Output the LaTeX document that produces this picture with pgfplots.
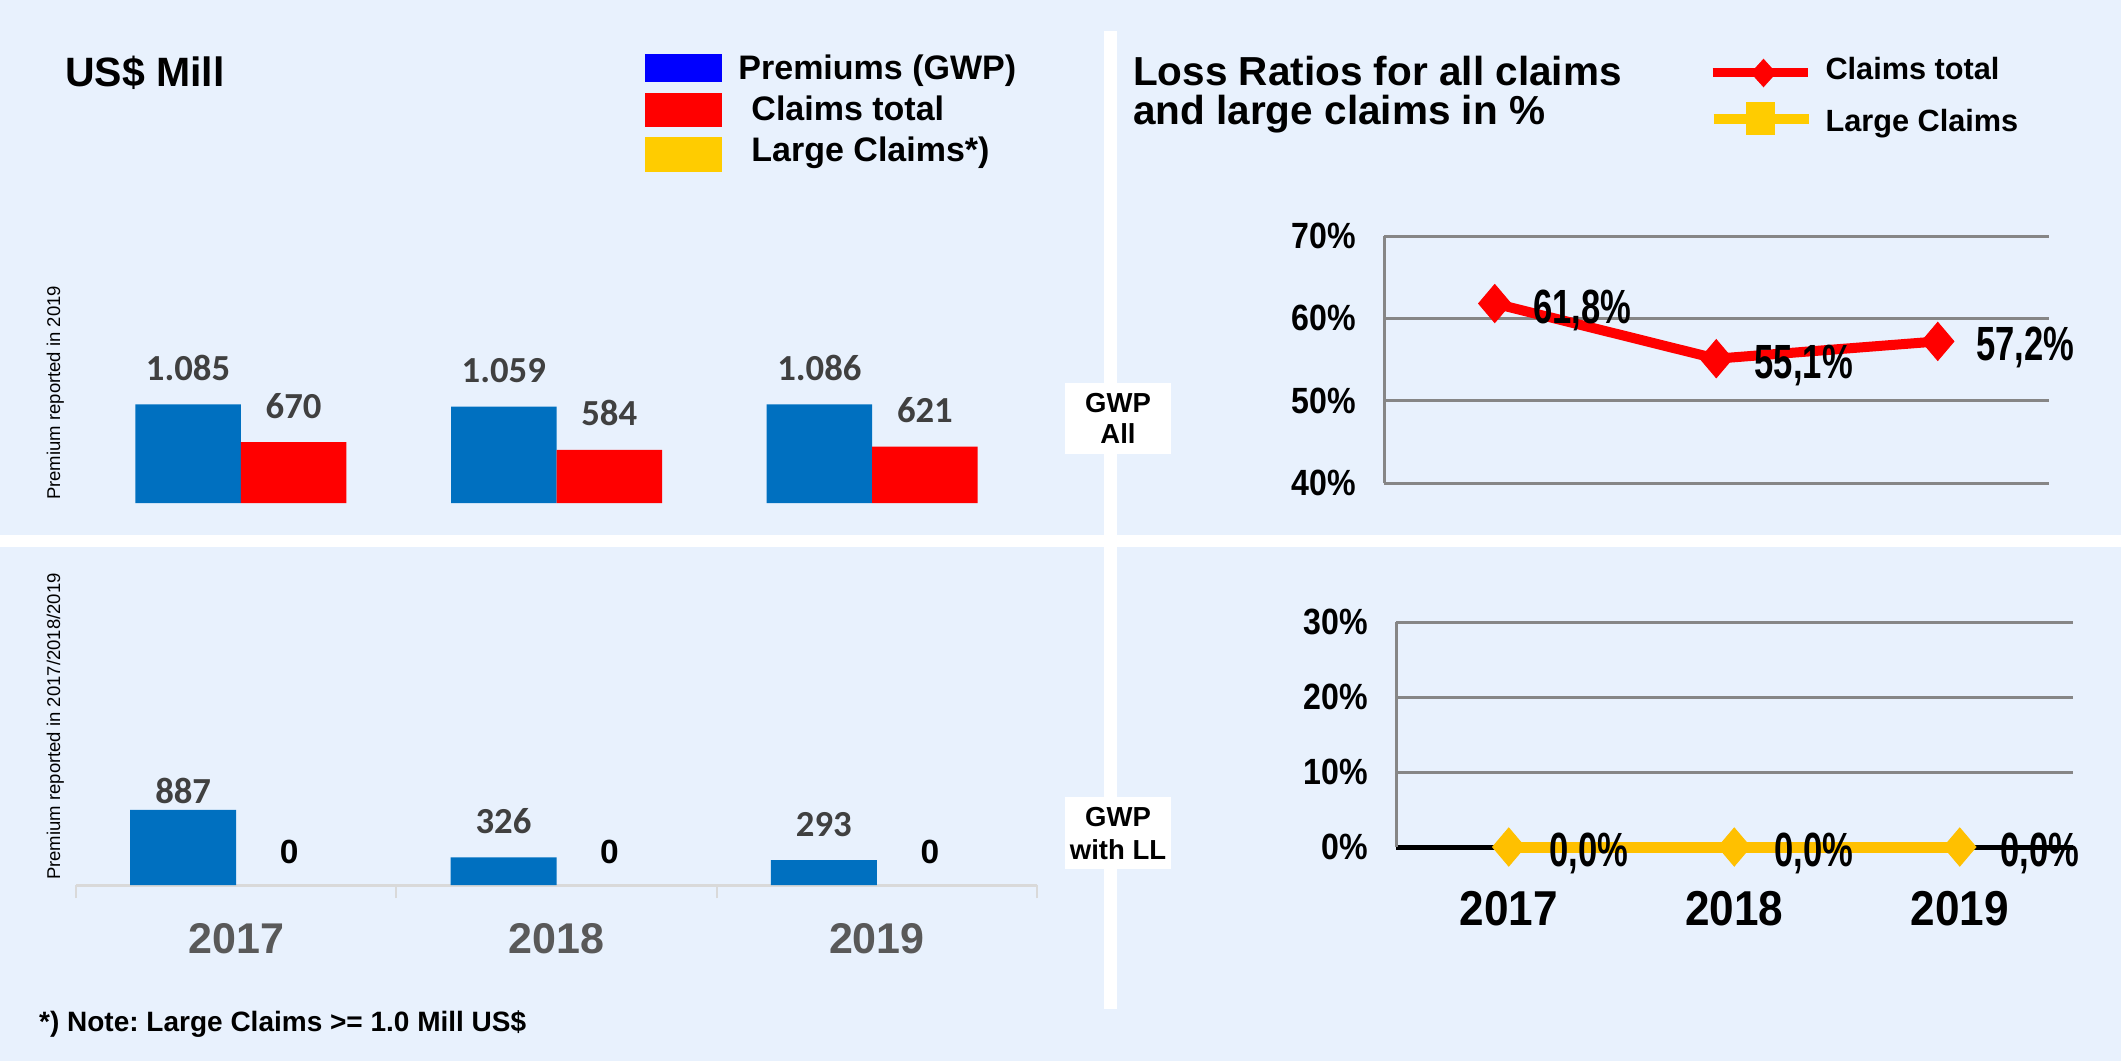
\documentclass[border=0pt]{standalone}
\usepackage{fontspec}
\setmainfont{Liberation Sans}
\newfontfamily\carlito{Carlito}
\newfontfamily\narrowA[FakeStretch=0.88]{Liberation Sans}
\newfontfamily\narrowB[FakeStretch=0.72]{Liberation Sans}
\newfontfamily\narrowC[FakeStretch=0.9]{Liberation Sans}
\usepackage{pgfplots}
\usepackage{pgfplotstable}
\pgfplotsset{compat=1.18}
\frenchspacing

\definecolor{bg}{RGB}{232,241,253}
\definecolor{barblue}{RGB}{0,112,192}
\definecolor{legblue}{RGB}{0,0,255}
\definecolor{legyellow}{RGB}{255,204,0}
\definecolor{lcyellow}{RGB}{255,192,0}
\definecolor{valgray}{RGB}{64,64,64}
\definecolor{yeargray}{RGB}{89,89,89}
\definecolor{gridgray}{RGB}{134,134,134}
\definecolor{axisgray}{RGB}{217,217,217}

\pgfplotstableread{
x y lab
0 1085 1.085
1 1059 1.059
2 1086 1.086
}\premall
\pgfplotstableread{
x y lab
0 670 670
1 584 584
2 621 621
}\claimsall
\pgfplotstableread{
x y lab off
0 887 887 6
1 326 326 23
2 293 293 23
}\premll
\pgfplotstableread{
x y lab
0 0 0
1 0 0
2 0 0
}\claimsll
\pgfplotstableread{
x y lab
0 61.8 61,8
1 55.1 55,1
2 57.2 57,2
}\lrall
\pgfplotstableread{
x y lab
0 0 0,0
1 0 0,0
2 0 0,0
}\lrlarge

\begin{document}
\begin{tikzpicture}
% background and separators
\begin{scope}[x=1pt,y=-1pt]
\fill[bg] (0,0) rectangle (2121,1061);
\fill[white] (0,535) rectangle (2121,547);
\fill[white] (1104,31) rectangle (1117,1009);
\fill[white] (1065,383) rectangle (1171,454);
\fill[white] (1065,797) rectangle (1171,869);
\end{scope}

% ---------- Top-left: GWP All bars ----------
\begin{axis}[at={(83pt,-503pt)}, anchor=south west, scale only axis,
  width=947pt, height=200pt, xmin=-0.5, xmax=2.5, ymin=0, ymax=2200,
  hide axis, clip=false,
  legend style={at={(axis description cs:0.5935,2.26)}, anchor=north west,
    draw=none, fill=none, inner sep=0pt, outer sep=0pt, row sep=1pt, column sep=17pt,
    font=\bfseries\fontsize{34}{40}\selectfont, cells={anchor=base west}, nodes={inner sep=0pt}},
]
\addplot[ybar, bar width=105.5pt, bar shift=-52.75pt, fill=barblue, draw=none, forget plot,
  nodes near coords, point meta=explicit symbolic,
  every node near coord/.append style={anchor=south, inner sep=0pt, xshift=-52.75pt, yshift=23.5pt,
    font=\carlito\bfseries\fontsize{36.7}{40}\selectfont, text=valgray}]
  table[x=x,y=y,meta=lab]{\premall};
\addplot[ybar, bar width=105.5pt, bar shift=52.75pt, fill=red, draw=none, forget plot,
  nodes near coords, point meta=explicit symbolic,
  every node near coord/.append style={anchor=south, inner sep=0pt, xshift=52.75pt, yshift=23.5pt,
    font=\carlito\bfseries\fontsize{36.7}{40}\selectfont, text=valgray}]
  table[x=x,y=y,meta=lab]{\claimsall};
\addlegendimage{legend image code/.code={\path[draw=none,fill=none] (0pt,-12pt) rectangle (1pt,28pt); \fill[legblue] (0pt,-2pt) rectangle (76pt,25pt);}}
\addlegendentry{Premiums (GWP)}
\addlegendimage{legend image code/.code={\path[draw=none,fill=none] (0pt,-12pt) rectangle (1pt,28pt); \fill[red] (0pt,-6pt) rectangle (76pt,27pt);}}
\addlegendentry{\hspace{13pt}Claims total}
\addlegendimage{legend image code/.code={\path[draw=none,fill=none] (0pt,-12pt) rectangle (1pt,28pt); \fill[legyellow] (0pt,-10.5pt) rectangle (76pt,23.5pt);}}
\addlegendentry{\hspace{13pt}Large Claims*)}
\end{axis}

% ---------- Bottom-left: GWP with LL bars ----------
\begin{axis}[at={(76pt,-885pt)}, anchor=south west, scale only axis,
  width=961pt, height=200pt, xmin=-0.5, xmax=2.5, ymin=0, ymax=2360, clip=false,
  axis x line*=bottom, axis y line=none, x axis line style={draw=axisgray, line width=3pt, -},
  xtick={0,1,2}, xticklabels={2017,2018,2019}, ytick=\empty,
  major tick length=0pt, minor xtick={-0.5,0.5,1.5,2.5}, minor tick length=13pt,
  tick align=outside, minor tick style={draw=axisgray, line width=2pt},
  xticklabel style={anchor=base, inner sep=0pt, yshift=-68pt,
    font=\bfseries\fontsize{43}{50}\selectfont, text=yeargray},
]
\addplot[ybar, bar width=106pt, bar shift=-53pt, fill=barblue, draw=none,
  nodes near coords, point meta=explicit symbolic,
  visualization depends on={\thisrow{off} \as \myoff},
  every node near coord/.append style={anchor=south, inner sep=0pt, xshift=-53pt, yshift=\myoff pt,
    font=\carlito\bfseries\fontsize{36.7}{40}\selectfont, text=valgray}]
  table[x=x,y=y,meta=lab]{\premll};
\addplot[ybar, bar width=106pt, bar shift=53pt, fill=none, draw=none,
  nodes near coords, point meta=explicit symbolic,
  every node near coord/.append style={anchor=south, inner sep=0pt, xshift=53pt, yshift=21pt,
    font=\bfseries\fontsize{33.5}{40}\selectfont, text=black}]
  table[x=x,y=y,meta=lab]{\claimsll};
\end{axis}

% ---------- Top-right: loss ratio all claims ----------
\begin{axis}[at={(1384pt,-483pt)}, anchor=south west, scale only axis,
  width=664.5pt, height=247pt, xmin=-0.5, xmax=2.5, ymin=40, ymax=70, clip=false,
  axis x line=none, axis y line*=left, y axis line style={draw=gridgray, line width=3pt, -},
  ytick={40,50,60,70}, yticklabels={40\%,50\%,60\%,70\%}, xtick=\empty, major tick length=0pt,
  ymajorgrids, grid style={draw=gridgray, line width=3pt},
  yticklabel style={anchor=east, inner sep=0pt, xshift=-28pt,
    font=\narrowA\bfseries\fontsize{36.5}{40}\selectfont},
  legend style={at={(axis description cs:0.4876,1.749)}, anchor=north west,
    draw=none, fill=none, inner sep=0pt, outer sep=0pt, row sep=9pt, column sep=12pt,
    font=\bfseries\fontsize{30.7}{36}\selectfont, cells={anchor=base west}, nodes={inner sep=0pt}},
]
\addplot[draw=red, line width=10pt, mark=diamond*, mark size=19pt,
  mark options={fill=red, draw=red, line width=1pt, xscale=1.13}, forget plot,
  nodes near coords={\pgfplotspointmeta\%}, point meta=explicit symbolic,
  every node near coord/.append style={anchor=west, inner sep=0pt, xshift=38pt, yshift=-6.5pt,
    font=\narrowB\bfseries\fontsize{48}{52}\selectfont, text=black}]
  table[x=x,y=y,meta=lab]{\lrall};
\addlegendimage{legend image code/.code={\path[draw=none,fill=none] (0pt,-14pt) rectangle (1pt,28pt);
  \draw[red, line width=9pt] (0pt,7pt) -- (95pt,7pt);
  \fill[red] (51pt,20pt) -- (63.5pt,6pt) -- (51pt,-8pt) -- (38.5pt,6pt) -- cycle;}}
\addlegendentry{Claims total}
\addlegendimage{legend image code/.code={\path[draw=none,fill=none] (0pt,-14pt) rectangle (1pt,28pt);
  \draw[legyellow, line width=10pt] (1pt,12pt) -- (96pt,12pt);
  \fill[legyellow] (34pt,-3pt) rectangle (62pt,29pt);}}
\addlegendentry{Large Claims}
\end{axis}

% ---------- Bottom-right: loss ratio large claims ----------
\begin{axis}[at={(1396pt,-847pt)}, anchor=south west, scale only axis,
  width=676.5pt, height=225pt, xmin=-0.5, xmax=2.5, ymin=0, ymax=30, clip=false,
  axis x line*=bottom, axis y line*=left,
  x axis line style={draw=black, line width=5pt, -}, y axis line style={draw=gridgray, line width=3pt, -},
  xtick={0,1,2}, xticklabels={2017,2018,2019},
  ytick={10,20,30}, yticklabels={10\%,20\%,30\%},
  extra y ticks={0}, extra y tick labels={0\%}, extra y tick style={grid=none},
  major tick length=0pt,
  ymajorgrids, grid style={draw=gridgray, line width=3pt},
  xticklabel style={anchor=base, inner sep=0pt, yshift=-78pt,
    font=\narrowC\bfseries\fontsize{49}{55}\selectfont},
  yticklabel style={anchor=east, inner sep=0pt, xshift=-28pt,
    font=\narrowA\bfseries\fontsize{36.5}{40}\selectfont},
]
\addplot[draw=lcyellow, line width=11pt, mark=diamond*, mark size=19pt,
  mark options={fill=lcyellow, draw=lcyellow, line width=1pt, xscale=1.13},
  nodes near coords={\pgfplotspointmeta\%}, point meta=explicit symbolic,
  every node near coord/.append style={anchor=west, inner sep=0pt, xshift=40pt, yshift=-6.5pt,
    font=\narrowB\bfseries\fontsize{48}{52}\selectfont, text=black}]
  table[x=x,y=y,meta=lab]{\lrlarge};
\end{axis}

% ---------- Texts ----------
\begin{scope}[x=1pt,y=-1pt]
\node[anchor=base west, inner sep=0pt, font=\bfseries\fontsize{41}{46}\selectfont] at (65,86) {US\$ Mill};
\node[anchor=base west, inner sep=0pt, font=\bfseries\fontsize{40.5}{46}\selectfont] at (1133,85) {Loss Ratios for all claims};
\node[anchor=base west, inner sep=0pt, font=\bfseries\fontsize{40.5}{46}\selectfont] at (1133,124) {and large claims in \%};
\node[anchor=base west, inner sep=0pt, font=\bfseries\fontsize{28}{32}\selectfont] at (39,1031) {*) Note: Large Claims >= 1.0 Mill US\$};
\node[anchor=base west, inner sep=0pt, rotate=90, font=\fontsize{18.5}{22}\selectfont] at (60,500) {Premium reported in 2019};
\node[anchor=base west, inner sep=0pt, rotate=90, font=\fontsize{18.5}{22}\selectfont] at (60,880) {Premium reported in 2017/2018/2019};
\node[anchor=base, inner sep=0pt, font=\bfseries\fontsize{27.5}{32}\selectfont] at (1118,412) {GWP};
\node[anchor=base, inner sep=0pt, font=\bfseries\fontsize{27.5}{32}\selectfont] at (1118,443) {All};
\node[anchor=base, inner sep=0pt, font=\bfseries\fontsize{27.5}{32}\selectfont] at (1118,826) {GWP};
\node[anchor=base, inner sep=0pt, font=\bfseries\fontsize{27.5}{32}\selectfont] at (1118,859) {with LL};
\end{scope}

\pgfresetboundingbox
\useasboundingbox (0pt,0pt) rectangle (2121pt,-1061pt);
\end{tikzpicture}
\end{document}
